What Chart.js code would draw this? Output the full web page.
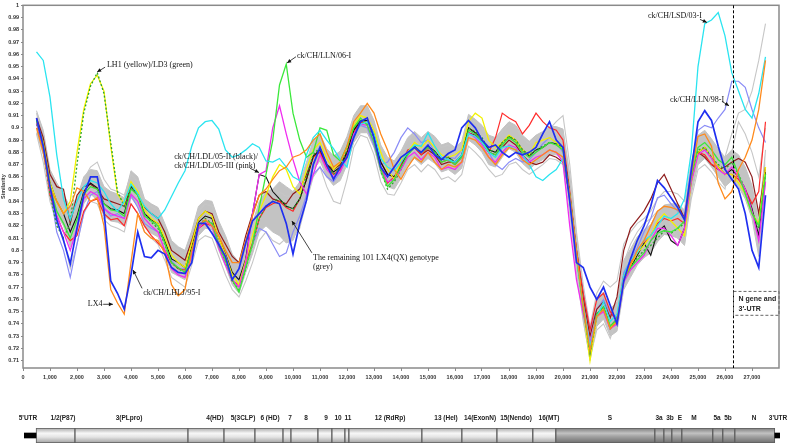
<!DOCTYPE html>
<html>
<head>
<meta charset="utf-8">
<script src="https://cdn.jsdelivr.net/npm/chart.js@4.4.1/dist/chart.umd.min.js"></script>
<style>
    html, body { margin: 0; padding: 0; background: #fff; }
    #wrap { position: relative; width: 791px; height: 447px; overflow: hidden; }
    #cMain { position: absolute; left: 0; top: 0; }
    #cMap { position: absolute; left: 0; top: 395px; }
</style>
</head>
<body>
<div id="wrap">
    <canvas id="cMain" width="791" height="395" style="width:791px;height:395px"></canvas>
    <canvas id="cMap" width="791" height="52" style="width:791px;height:52px"></canvas>
</div>
<script>
// ==========================================
// DATA: kedudukan tetingkap (nt) & nilai similarity
// ==========================================
const posisi = [500,750,1000,1250,1500,1750,2000,2250,2500,2750,3000,3250,3500,3750,4000,4250,4500,4750,5000,5250,5500,5750,6000,6250,6500,6750,7000,7250,7500,7750,8000,8250,8500,8750,9000,9250,9500,9750,10000,10250,10500,10750,11000,11250,11500,11750,12000,12250,12500,12750,13000,13250,13500,13750,14000,14250,14500,14750,15000,15250,15500,15750,16000,16250,16500,16750,17000,17250,17500,17750,18000,18250,18500,18750,19000,19250,19500,19750,20000,20250,20500,20750,21000,21250,21500,21750,22000,22250,22500,22750,23000,23250,23500,23750,24000,24250,24500,24750,25000,25250,25500,25750,26000,26250,26500,26750,27000,27250,27500];

const xTicks = [0,1000,2000,3000,4000,5000,6000,7000,8000,9000,10000,11000,12000,13000,14000,15000,16000,17000,18000,19000,20000,21000,22000,23000,24000,25000,26000,27000];
const yTicks = [0.71,0.72,0.73,0.74,0.75,0.76,0.77,0.78,0.79,0.8,0.81,0.82,0.83,0.84,0.85,0.86,0.87,0.88,0.89,0.9,0.91,0.92,0.93,0.94,0.95,0.96,0.97,0.98,0.99,1];

// LX4 (biru tebal)
const lx4 = [0.908,0.885,
    0.852,0.825,0.808,0.789, 0.818,0.845,0.860,0.860, 0.832,0.775,0.765,0.752, 0.780,0.815,0.795,0.794,
    0.800,0.797,0.786,0.782, 0.781,0.790,0.822,0.822, 0.814,0.805,0.795,0.776, 0.785,0.806,0.824,0.830,
    0.836,0.840,0.838,0.822, 0.797,0.822,0.841,0.870, 0.884,0.870,0.858,0.868, 0.876,0.892,0.905,0.908,
    0.892,0.868,0.860,0.868, 0.876,0.880,0.884,0.880, 0.886,0.878,0.874,0.879, 0.882,0.900,0.906,0.900,
    0.890,0.884,0.886,0.880, 0.876,0.880,0.878,0.880, 0.884,0.895,0.905,0.890, 0.884,0.840,0.790,0.786,
    0.770,0.760,0.770,0.755, 0.740,0.775,0.793,0.808, 0.820,0.836,0.857,0.851, 0.843,0.835,0.825,0.865,
    0.905,0.914,0.906,0.885, 0.866,0.858,0.850,0.830,
    0.800,0.786,0.845];

// ck/CH/LHLJ/95-I (oren)
const lhlj95 = [0.900,0.880,
    0.850,0.840,0.830,0.836, 0.851,0.848,0.840,0.843, 0.820,0.768,0.757,0.748, 0.790,0.830,0.815,0.810,
    0.808,0.798,0.772,0.763, 0.768,0.800,0.820,0.825, 0.820,0.812,0.800,0.790, 0.790,0.808,0.828,0.845,
    0.850,0.858,0.865,0.868, 0.876,0.878,0.882,0.890, 0.895,0.880,0.868,0.872, 0.885,0.905,0.912,0.920,
    0.912,0.895,0.882,0.866, 0.858,0.868,0.876,0.872, 0.880,0.872,0.866,0.870, 0.868,0.872,0.892,0.890,
    0.884,0.876,0.870,0.878, 0.884,0.882,0.874,0.870, 0.874,0.878,0.882,0.880, 0.876,0.846,0.798,0.754,
    0.718,0.746,0.752,0.736, 0.742,0.776,0.788,0.800, 0.808,0.820,0.832,0.836, 0.835,0.833,0.826,0.862,
    0.893,0.895,0.885,0.855, 0.842,0.848,0.866,0.876,
    0.890,0.915,0.955];

// ck/CH/LSD/03-I (sian)
const lsd03 = [0.962,0.955,
    0.925,0.878,0.842,0.825, 0.840,0.852,0.857,0.855, 0.848,0.838,0.832,0.840, 0.854,0.846,0.836,0.830,
    0.826,0.833,0.844,0.855, 0.865,0.885,0.900,0.905, 0.906,0.899,0.882,0.876, 0.878,0.882,0.887,0.884,
    0.873,0.872,0.875,0.868, 0.860,0.857,0.878,0.892, 0.898,0.890,0.883,0.874, 0.868,0.893,0.903,0.905,
    0.895,0.875,0.868,0.865, 0.872,0.880,0.886,0.885, 0.896,0.885,0.876,0.874, 0.872,0.878,0.895,0.893,
    0.888,0.880,0.876,0.884, 0.885,0.882,0.878,0.870, 0.860,0.857,0.862,0.866, 0.875,0.845,0.795,0.755,
    0.722,0.745,0.758,0.742, 0.748,0.780,0.792,0.798, 0.808,0.812,0.820,0.828, 0.826,0.830,0.842,0.880,
    0.950,0.985,0.988,0.994, 0.975,0.945,0.930,0.915,
    0.908,0.928,0.958];

// ck/CH/LLN/06-I (hijau terang)
const lln06 = [0.906,0.886,
    0.852,0.832,0.822,0.810, 0.825,0.846,0.852,0.850, 0.838,0.833,0.832,0.828, 0.850,0.845,0.828,0.824,
    0.820,0.806,0.790,0.786, 0.782,0.800,0.820,0.824, 0.822,0.804,0.792,0.776, 0.766,0.786,0.805,0.835,
    0.862,0.890,0.935,0.952, 0.912,0.890,0.876,0.880, 0.900,0.898,0.878,0.873, 0.885,0.900,0.908,0.902,
    0.888,0.866,0.852,0.858, 0.868,0.878,0.884,0.880, 0.884,0.880,0.872,0.874, 0.870,0.876,0.898,0.895,
    0.890,0.880,0.878,0.886, 0.892,0.888,0.880,0.876, 0.880,0.884,0.888,0.886, 0.882,0.842,0.794,0.752,
    0.718,0.748,0.754,0.738, 0.744,0.776,0.786,0.792, 0.798,0.808,0.814,0.816, 0.815,0.818,0.824,0.860,
    0.884,0.888,0.882,0.874, 0.870,0.876,0.862,0.846,
    0.830,0.820,0.862];

// ck/CH/LDL/05-III (merah jambu)
const ldl05iii = [0.904,0.884,
    0.850,0.828,0.815,0.800, 0.818,0.842,0.848,0.845, 0.834,0.830,0.828,0.826, 0.846,0.840,0.826,0.820,
    0.815,0.800,0.785,0.780, 0.778,0.796,0.818,0.824, 0.820,0.802,0.788,0.776, 0.770,0.790,0.830,0.862,
    0.865,0.900,0.918,0.895, 0.874,0.856,0.846,0.862, 0.878,0.866,0.860,0.864, 0.876,0.895,0.903,0.902,
    0.888,0.866,0.856,0.858, 0.866,0.876,0.880,0.874, 0.880,0.876,0.866,0.868, 0.866,0.872,0.896,0.892,
    0.886,0.876,0.872,0.880, 0.886,0.884,0.876,0.872, 0.876,0.878,0.882,0.880, 0.872,0.820,0.776,0.748,
    0.725,0.746,0.750,0.736, 0.740,0.774,0.784,0.790, 0.796,0.808,0.818,0.818, 0.812,0.804,0.818,0.856,
    0.878,0.882,0.875,0.866, 0.862,0.868,0.860,0.850,
    0.832,0.808,0.856];

// LD3 (hijau, putus-putus)
const ld3 = [0.903,0.882,
    0.846,0.820,0.810,0.822, 0.870,0.912,0.934,0.945, 0.928,0.888,0.848,0.836, 0.852,0.846,0.830,0.823,
    0.818,0.805,0.790,0.785, 0.782,0.800,0.820,0.826, 0.822,0.804,0.790,0.775, 0.768,0.785,0.805,0.826,
    0.836,0.840,0.842,0.836, 0.834,0.842,0.860,0.878, 0.884,0.870,0.862,0.868, 0.882,0.900,0.906,0.903,
    0.890,0.865,0.850,0.856, 0.866,0.878,0.885,0.880, 0.885,0.881,0.874,0.876, 0.872,0.877,0.900,0.897,
    0.892,0.882,0.880,0.888, 0.893,0.890,0.882,0.878, 0.882,0.885,0.888,0.887, 0.884,0.846,0.796,0.754,
    0.716,0.746,0.752,0.736, 0.742,0.776,0.786,0.794, 0.800,0.804,0.810,0.816, 0.814,0.818,0.822,0.858,
    0.882,0.884,0.876,0.870, 0.866,0.872,0.862,0.850,
    0.832,0.818,0.862];

// LH1 (kuning)
const lh1 = [0.905,0.888,
    0.855,0.840,0.830,0.840, 0.880,0.915,0.936,0.943, 0.930,0.885,0.846,0.838, 0.856,0.848,0.833,0.826,
    0.822,0.810,0.796,0.790, 0.786,0.806,0.826,0.832, 0.828,0.810,0.796,0.780, 0.772,0.792,0.812,0.832,
    0.845,0.860,0.870,0.866, 0.852,0.846,0.866,0.882, 0.888,0.875,0.866,0.872, 0.884,0.902,0.910,0.908,
    0.898,0.880,0.866,0.858, 0.874,0.880,0.888,0.884, 0.890,0.884,0.878,0.876, 0.878,0.882,0.905,0.912,
    0.908,0.890,0.884,0.888, 0.894,0.890,0.882,0.878, 0.888,0.890,0.892,0.888, 0.882,0.845,0.798,0.752,
    0.710,0.745,0.752,0.738, 0.742,0.778,0.788,0.798, 0.804,0.812,0.824,0.830, 0.824,0.818,0.812,0.855,
    0.880,0.884,0.876,0.868, 0.862,0.862,0.855,0.846,
    0.830,0.822,0.868];

// ck/CH/LDL/05-II (hitam)
const ldl05ii = [0.906,0.888,
    0.855,0.840,0.830,0.815, 0.828,0.848,0.855,0.851, 0.838,0.834,0.833,0.830, 0.852,0.846,0.830,0.825,
    0.822,0.808,0.793,0.790, 0.786,0.803,0.823,0.828, 0.826,0.810,0.797,0.782, 0.776,0.793,0.830,0.862,
    0.860,0.848,0.842,0.836, 0.834,0.842,0.858,0.877, 0.882,0.870,0.864,0.868, 0.880,0.898,0.906,0.906,
    0.894,0.872,0.862,0.860, 0.868,0.880,0.885,0.880, 0.885,0.881,0.874,0.876, 0.872,0.877,0.900,0.896,
    0.890,0.882,0.880,0.888, 0.893,0.890,0.882,0.877, 0.882,0.884,0.888,0.887, 0.884,0.846,0.798,0.755,
    0.716,0.748,0.754,0.738, 0.744,0.778,0.786,0.796, 0.806,0.796,0.815,0.820, 0.808,0.804,0.818,0.856,
    0.880,0.884,0.876,0.868, 0.862,0.866,0.860,0.850,
    0.834,0.812,0.864];

// strain merah
const merah = [0.905,0.885,
    0.845,0.828,0.815,0.808, 0.812,0.832,0.840,0.842, 0.830,0.825,0.826,0.820, 0.838,0.830,0.820,0.812,
    0.806,0.800,0.790,0.785, 0.784,0.798,0.818,0.822, 0.820,0.805,0.792,0.775, 0.772,0.790,0.806,0.826,
    0.835,0.838,0.840,0.835, 0.832,0.842,0.858,0.876, 0.880,0.868,0.862,0.866, 0.878,0.896,0.904,0.906,
    0.893,0.868,0.855,0.860, 0.870,0.882,0.884,0.878, 0.884,0.880,0.872,0.874, 0.870,0.876,0.900,0.896,
    0.890,0.880,0.892,0.912, 0.908,0.905,0.895,0.902, 0.912,0.905,0.900,0.898, 0.890,0.848,0.800,0.765,
    0.735,0.760,0.765,0.750, 0.742,0.780,0.790,0.798, 0.806,0.812,0.822,0.826, 0.824,0.826,0.822,0.858,
    0.880,0.878,0.870,0.868, 0.862,0.862,0.858,0.850,
    0.838,0.848,0.905];

// strain coklat
const coklat = [0.908,0.892,
    0.862,0.852,0.850,0.822, 0.845,0.852,0.854,0.850, 0.842,0.840,0.838,0.836, 0.852,0.845,0.835,0.830,
    0.826,0.815,0.800,0.796, 0.792,0.808,0.826,0.832, 0.830,0.815,0.805,0.795, 0.790,0.812,0.830,0.845,
    0.848,0.842,0.840,0.838, 0.846,0.850,0.862,0.876, 0.882,0.870,0.866,0.870, 0.880,0.898,0.905,0.906,
    0.895,0.872,0.862,0.860, 0.868,0.880,0.884,0.878, 0.882,0.878,0.870,0.872, 0.872,0.878,0.896,0.894,
    0.888,0.880,0.878,0.884, 0.890,0.886,0.878,0.872, 0.870,0.872,0.878,0.876, 0.872,0.845,0.800,0.762,
    0.730,0.752,0.758,0.745, 0.762,0.800,0.818,0.825, 0.832,0.842,0.855,0.862, 0.850,0.838,0.826,0.862,
    0.880,0.876,0.870,0.866, 0.868,0.872,0.875,0.872,
    0.860,0.830,0.868];

// ck/CH/LLN/98-I (biru lembut)
const lln98 = [0.905,0.882,
    0.850,0.815,0.800,0.778, 0.805,0.830,0.845,0.848, 0.835,0.828,0.830,0.826, 0.845,0.835,0.822,0.818,
    0.815,0.808,0.792,0.785, 0.785,0.800,0.818,0.824, 0.822,0.808,0.795,0.780, 0.776,0.792,0.805,0.818,
    0.815,0.805,0.795,0.798, 0.815,0.828,0.845,0.862, 0.868,0.860,0.856,0.864, 0.880,0.895,0.902,0.900,
    0.885,0.870,0.872,0.880, 0.892,0.900,0.895,0.888, 0.890,0.880,0.872,0.876, 0.875,0.882,0.898,0.895,
    0.888,0.880,0.870,0.866, 0.872,0.875,0.872,0.874, 0.880,0.887,0.892,0.888, 0.880,0.845,0.800,0.765,
    0.735,0.752,0.760,0.748, 0.745,0.782,0.792,0.802, 0.815,0.826,0.843,0.845, 0.838,0.832,0.828,0.868,
    0.898,0.902,0.900,0.908, 0.915,0.938,0.938,0.933,
    0.915,0.900,0.888];

// 101 genotip LX4(QX) lain: dua garis kelabu + jalur kelabu
const kelabu1 = [0.912,0.895,
    0.862,0.850,0.845,0.832, 0.840,0.858,0.868,0.872, 0.858,0.850,0.848,0.845, 0.862,0.856,0.840,0.836,
    0.832,0.820,0.804,0.800, 0.797,0.812,0.832,0.838, 0.836,0.820,0.806,0.792, 0.786,0.800,0.816,0.834,
    0.842,0.845,0.848,0.844, 0.845,0.852,0.868,0.886, 0.892,0.880,0.874,0.878, 0.890,0.908,0.916,0.916,
    0.903,0.884,0.874,0.870, 0.879,0.890,0.895,0.890, 0.895,0.891,0.884,0.886, 0.882,0.886,0.908,0.905,
    0.900,0.892,0.890,0.897, 0.903,0.900,0.892,0.887, 0.892,0.895,0.899,0.905, 0.910,0.870,0.815,0.772,
    0.738,0.765,0.775,0.770, 0.775,0.805,0.815,0.822, 0.826,0.832,0.842,0.848, 0.848,0.846,0.840,0.870,
    0.892,0.895,0.888,0.880, 0.876,0.895,0.912,0.915,
    0.930,0.955,0.985];

const kelabu2 = [0.895,0.872,
    0.840,0.822,0.810,0.785, 0.805,0.830,0.840,0.838, 0.825,0.820,0.818,0.815, 0.838,0.830,0.815,0.810,
    0.805,0.792,0.778,0.774, 0.770,0.788,0.808,0.812, 0.810,0.795,0.780,0.768, 0.762,0.775,0.790,0.808,
    0.815,0.808,0.805,0.810, 0.812,0.818,0.840,0.860, 0.868,0.852,0.840,0.838, 0.858,0.884,0.894,0.892,
    0.878,0.856,0.846,0.845, 0.855,0.866,0.870,0.864, 0.870,0.866,0.858,0.860, 0.856,0.862,0.885,0.880,
    0.874,0.866,0.860,0.862, 0.870,0.872,0.866,0.862, 0.866,0.870,0.875,0.874, 0.870,0.830,0.782,0.742,
    0.712,0.735,0.740,0.728, 0.745,0.790,0.805,0.815, 0.822,0.826,0.832,0.830, 0.820,0.810,0.805,0.842,
    0.866,0.870,0.864,0.856, 0.850,0.880,0.905,0.895,
    0.880,0.860,0.900];

const kelabuAtas = [0.914,0.898,
    0.866,0.855,0.846,0.835, 0.843,0.860,0.866,0.865, 0.852,0.848,0.846,0.843, 0.865,0.860,0.842,0.838,
    0.835,0.822,0.808,0.803, 0.800,0.816,0.836,0.841, 0.840,0.824,0.812,0.797, 0.790,0.806,0.822,0.840,
    0.848,0.850,0.856,0.852, 0.848,0.856,0.872,0.890, 0.895,0.883,0.877,0.881, 0.893,0.910,0.918,0.918,
    0.906,0.886,0.876,0.873, 0.881,0.892,0.897,0.892, 0.897,0.893,0.886,0.888, 0.884,0.889,0.911,0.907,
    0.902,0.894,0.892,0.899, 0.905,0.902,0.894,0.889, 0.894,0.897,0.901,0.901, 0.899,0.862,0.812,0.768,
    0.730,0.760,0.766,0.752, 0.758,0.792,0.801,0.811, 0.817,0.821,0.831,0.837, 0.838,0.838,0.833,0.872,
    0.894,0.898,0.891,0.883, 0.876,0.882,0.878,0.868,
    0.853,0.824,0.882];

const kelabuBawah = [0.896,0.878,
    0.845,0.829,0.820,0.803, 0.815,0.838,0.846,0.841, 0.828,0.824,0.823,0.820, 0.843,0.836,0.819,0.814,
    0.811,0.797,0.782,0.779, 0.776,0.792,0.812,0.818, 0.817,0.800,0.787,0.772, 0.765,0.782,0.797,0.815,
    0.820,0.815,0.812,0.806, 0.808,0.822,0.846,0.866, 0.873,0.860,0.853,0.857, 0.870,0.888,0.896,0.896,
    0.884,0.863,0.852,0.850, 0.859,0.870,0.875,0.870, 0.875,0.871,0.864,0.866, 0.862,0.867,0.890,0.886,
    0.880,0.870,0.868,0.876, 0.883,0.880,0.871,0.866, 0.871,0.874,0.878,0.878, 0.874,0.836,0.786,0.744,
    0.710,0.738,0.744,0.730, 0.734,0.768,0.778,0.788, 0.794,0.798,0.807,0.813, 0.812,0.810,0.804,0.846,
    0.870,0.875,0.868,0.860, 0.852,0.857,0.852,0.842,
    0.826,0.795,0.856];

// Peta genom (nt)
const genNama  = ['1/2(P87)','3(PLpro)','4(HD)','5(3CLP)','6 (HD)','7','8','9','10','11','12 (RdRp)','13 (Hel)','14(ExonN)','15(Nendo)','16(MT)','S','3a','3b','E','M','5a','5b','N'];
const genAwal  = [440,1860,5985,7300,8430,9455,9745,10730,11240,11715,11860,14525,15985,17265,18575,19415,23030,23360,23650,24015,25145,25510,25950];
const genAkhir = [1860,5985,7300,8430,9455,9745,10730,11240,11715,11860,14525,15985,17265,18575,19415,23030,23360,23650,24015,25145,25510,25950,27410];
const utrNama  = ["5'UTR","3'UTR"];
const utrAwal  = [0,27410];
const utrAkhir = [440,27600];

// kedudukan tengah label peta (nt)
const genLabelX = [1424,3834,6973,7996,8981,9712,10296,11026,11464,11829,13362,15407,16648,17963,19168,21395,23184,23585,23950,24461,25301,25703,26652];
const utrLabelX = [146,27528];

const batasN = 26300;   // garis putus: N gene & 3'-UTR

// Label anak panah (koordinat data)
const catatan = [
    { teks: ['LH1 (yellow)/LD3 (green)'], x: 3110, y: 0.951, dari: [3040, 0.9495], ke: [2745, 0.9455] },
    { teks: ['ck/CH/LLN/06-I'], x: 10150, y: 0.959, dari: [10110, 0.958], ke: [9780, 0.953] },
    { teks: ['ck/CH/LSD/03-I'], x: 23150, y: 0.991, dari: [25074, 0.9885], ke: [25330, 0.986] },
    { teks: ['ck/CH/LLN/98-I'], x: 23960, y: 0.923, dari: [25890, 0.9215], ke: [26150, 0.918] },
    { teks: ['ck/CH/LDL/05-II (black)/', 'ck/CH/LDL/05-III (pink)'], x: 5600, y: 0.876, dari: [8410, 0.867], ke: [8740, 0.8635] },
    { teks: ['The remaining 101 LX4(QX) genotype', '(grey)'], x: 10745, y: 0.794, dari: [10700, 0.798], ke: [9960, 0.824] },
    { teks: ['LX4'], x: 2400, y: 0.756, dari: [2970, 0.756], ke: [3330, 0.756] },
    { teks: ['ck/CH/LHLJ/95-I'], x: 4450, y: 0.765, dari: [4410, 0.769], ke: [4075, 0.784] }
];

Chart.defaults.font.family = '"Liberation Sans", Arial, sans-serif';

function garis(label, nilai, warna, lebar, putus) {
    return {
        label: label,
        data: nilai.map((v, i) => ({ x: posisi[i], y: v })),
        borderColor: warna,
        borderWidth: lebar || 1.2,
        borderDash: putus || [],
        pointRadius: 0,
        fill: false,
        tension: 0
    };
}

function panah(g, x1, y1, x2, y2) {
    const sudut = Math.atan2(y2 - y1, x2 - x1), p = 4.5;
    g.beginPath(); g.moveTo(x1, y1); g.lineTo(x2, y2); g.stroke();
    g.beginPath(); g.moveTo(x2, y2);
    g.lineTo(x2 - p * Math.cos(sudut - 0.45), y2 - p * Math.sin(sudut - 0.45));
    g.lineTo(x2 - p * Math.cos(sudut + 0.45), y2 - p * Math.sin(sudut + 0.45));
    g.closePath(); g.fill();
}

// hiasan: kotak plot, garis N gene, label & anak panah
const hiasan = {
    id: 'hiasan',
    afterDraw(chart) {
        const g = chart.ctx, a = chart.chartArea, sx = chart.scales.x, sy = chart.scales.y;
        g.save();
        g.strokeStyle = '#8a8a8a'; g.lineWidth = 1.5;
        g.strokeRect(a.left, a.top, a.right - a.left, a.bottom - a.top);

        const xN = Math.round(sx.getPixelForValue(batasN)) + 0.5;
        g.setLineDash([3, 2]); g.strokeStyle = '#000'; g.lineWidth = 1;
        g.beginPath(); g.moveTo(xN, a.top); g.lineTo(xN, a.bottom); g.stroke();

        const yT = sy.getPixelForValue(0.7665), yB = sy.getPixelForValue(0.747);
        g.strokeStyle = '#666';
        g.strokeRect(xN, yT, a.right - xN, yB - yT);
        g.setLineDash([]);
        g.font = 'bold 7px "Liberation Sans"'; g.fillStyle = '#222'; g.textBaseline = 'middle';
        g.fillText('N gene and', xN + 5, yT + 8);
        g.fillText('3\u2032-UTR', xN + 5, yT + 18);

        g.font = '8px "Liberation Serif"'; g.fillStyle = '#111'; g.strokeStyle = '#111'; g.lineWidth = 0.8;
        catatan.forEach(c => {
            const tx = sx.getPixelForValue(c.x), ty = sy.getPixelForValue(c.y);
            c.teks.forEach((t, k) => g.fillText(t, tx, ty + k * 9));
            panah(g, sx.getPixelForValue(c.dari[0]), sy.getPixelForValue(c.dari[1]),
                     sx.getPixelForValue(c.ke[0]), sy.getPixelForValue(c.ke[1]));
        });
        g.restore();
    }
};

const fonTick = { size: 5.5, weight: 'bold' };

new Chart(document.getElementById('cMain'), {
    type: 'line',
    data: {
        datasets: [
            garis('LX4', lx4, '#1f2ff0', 1.7),
            garis('ck/CH/LHLJ/95-I', lhlj95, '#ff8a1c', 1.3),
            garis('ck/CH/LSD/03-I', lsd03, '#2ae4f0', 1.3),
            garis('ck/CH/LLN/06-I', lln06, '#3be83b', 1.3),
            garis('ck/CH/LDL/05-III', ldl05iii, '#f02cf0', 1.3),
            garis('LD3', ld3, '#2aa52a', 1.3, [2, 2]),
            garis('LH1', lh1, '#f2f200', 1.3),
            garis('ck/CH/LDL/05-II', ldl05ii, '#111111', 1.1),
            garis('merah', merah, '#ff2a2a', 1.2),
            garis('coklat', coklat, '#8e1c1c', 1.2),
            garis('ck/CH/LLN/98-I', lln98, '#8a8cf6', 1.2),
            garis('kelabu1', kelabu1, '#c6c6c6', 1.1),
            garis('kelabu2', kelabu2, '#c6c6c6', 1.1),
            garis('kelabuAtas', kelabuAtas, '#c2c2c2', 1),
            Object.assign(garis('kelabuBawah', kelabuBawah, '#c2c2c2', 1), { fill: '-1', backgroundColor: 'rgba(188,188,188,0.9)' })
        ]
    },
    options: {
        responsive: false, animation: false, events: [], normalized: true,
        layout: { padding: { top: 5, right: 12, left: 0, bottom: 0 } },
        plugins: { legend: { display: false }, tooltip: { enabled: false } },
        scales: {
            x: {
                type: 'linear', min: 0, max: 28000,
                afterBuildTicks: s => { s.ticks = xTicks.map(v => ({ value: v })); },
                afterFit: s => { s.height = 27; },
                border: { display: false },
                grid: { drawOnChartArea: false, tickLength: 3, color: '#8a8a8a' },
                ticks: {
                    font: fonTick, color: '#333', padding: 3, maxRotation: 0, autoSkip: false,
                    callback: v => String(v).replace(/\B(?=(\d{3})+(?!\d))/g, ',')
                }
            },
            y: {
                min: 0.704, max: 1.0,
                afterBuildTicks: s => { s.ticks = yTicks.map(v => ({ value: v })); },
                afterFit: s => { s.width = 23; },
                border: { display: false },
                grid: { drawOnChartArea: false, tickLength: 2, color: '#8a8a8a' },
                ticks: {
                    font: fonTick, color: '#333', padding: 2, autoSkip: false,
                    callback: v => String(parseFloat(Number(v).toFixed(2)))
                },
                title: { display: true, text: 'Similarity', font: { size: 5.5, weight: 'bold' }, color: '#333', padding: { top: 0, bottom: 0 } }
            }
        }
    },
    plugins: [hiasan]
});

// ==========================================
// PETA GENOM di bawah carta
// ==========================================
function warnaGen(c) {
    const chart = c.chart, a = chart.chartArea;
    if (!a) return '#cccccc';
    const gelap = c.dataIndex >= 15; // S ke N
    const gr = chart.ctx.createLinearGradient(0, a.top, 0, a.bottom);
    if (gelap) {
        gr.addColorStop(0, '#7c7c7c'); gr.addColorStop(0.35, '#c2c2c2');
        gr.addColorStop(0.55, '#a4a4a4'); gr.addColorStop(1, '#6e6e6e');
    } else {
        gr.addColorStop(0, '#a8a8a8'); gr.addColorStop(0.35, '#f7f7f7');
        gr.addColorStop(0.6, '#e4e4e4'); gr.addColorStop(1, '#a0a0a0');
    }
    return gr;
}

const labelGen = {
    id: 'labelGen',
    afterDatasetsDraw(chart) {
        const g = chart.ctx, sx = chart.scales.x;
        g.save();
        g.font = 'bold 6.5px "Liberation Sans"'; g.fillStyle = '#222';
        g.textAlign = 'center'; g.textBaseline = 'middle';
        genNama.forEach((n, i) => g.fillText(n, sx.getPixelForValue(genLabelX[i]), 23));
        utrNama.forEach((n, i) => g.fillText(n, sx.getPixelForValue(utrLabelX[i]), 23));
        g.restore();
    }
};

new Chart(document.getElementById('cMap'), {
    type: 'bar',
    data: {
        labels: ['genom'],
        datasets: [
            { data: utrAwal.map((v, i) => ({ x: [v, utrAkhir[i]], y: 'genom' })), backgroundColor: '#000', barThickness: 5, grouped: false },
            { data: genAwal.map((v, i) => ({ x: [v, genAkhir[i]], y: 'genom' })), backgroundColor: warnaGen,
              borderColor: '#5e5e5e', borderWidth: 1, borderSkipped: false, barPercentage: 1, categoryPercentage: 1, grouped: false }
        ]
    },
    options: {
        indexAxis: 'y', responsive: false, animation: false, events: [],
        layout: { padding: { left: 24, right: 11, top: 33, bottom: 4 } },
        plugins: { legend: { display: false }, tooltip: { enabled: false } },
        scales: { x: { type: 'linear', display: false, min: 0, max: 27600 }, y: { display: false } }
    },
    plugins: [labelGen]
});
</script>
</body>
</html>
